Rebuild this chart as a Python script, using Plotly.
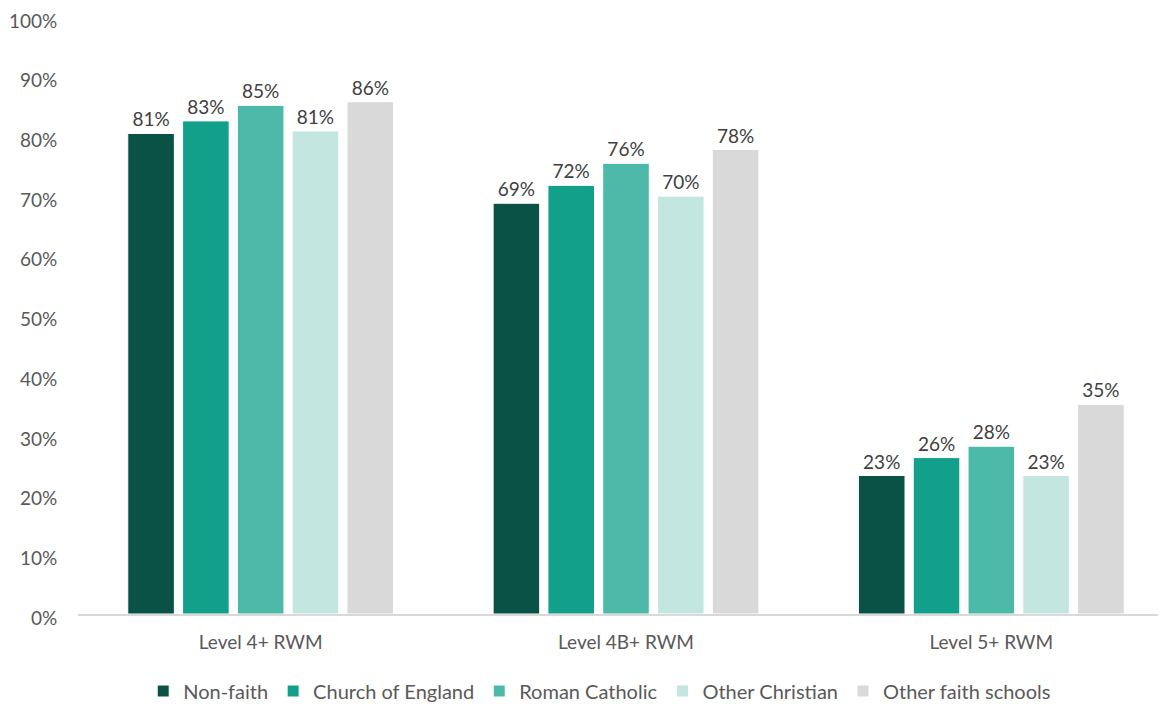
import plotly.graph_objects as go

categories = ['Level 4+ RWM', 'Level 4B+ RWM', 'Level 5+ RWM']
series = ['Non-faith', 'Church of England', 'Roman Catholic', 'Other Christian', 'Other faith schools']
values = {
    'Non-faith': [80.5, 68.8, 23.2],
    'Church of England': [82.6, 71.8, 26.2],
    'Roman Catholic': [85.2, 75.5, 28.1],
    'Other Christian': [80.9, 70.0, 23.2],
    'Other faith schools': [85.8, 77.8, 35.1],
}
labels = {
    'Non-faith': [81, 69, 23],
    'Church of England': [83, 72, 26],
    'Roman Catholic': [85, 76, 28],
    'Other Christian': [81, 70, 23],
    'Other faith schools': [86, 78, 35],
}
colors = ['#0A5246', '#12A08A', '#4DB9A8', '#C4E6E0', '#D9D9D9']

font = 'Lato, Open Sans, sans-serif'

data = []
for name, col in zip(series, colors):
    data.append(go.Bar(
        name=name, x=categories, y=values[name],
        marker=dict(color=col, line=dict(color='white', width=1)),
        text=[f'{v}%' for v in labels[name]],
        textposition='outside', cliponaxis=False, constraintext='none',
        textfont=dict(size=19, color='#404040', family=font),
    ))

# the page body adds an 8px offset, margins compensate for it
layout = go.Layout(
    width=1166, height=704,
    margin=dict(l=70, r=0, t=9, b=98),
    paper_bgcolor='white', plot_bgcolor='white',
    barmode='group', bargap=0.25, bargroupgap=0.15,
    font=dict(family=font, size=19, color='#595959'),
    xaxis=dict(range=[-0.5, 2.5], showline=True, linecolor='#D9D9D9', linewidth=1.5,
               ticks='outside', ticklen=10, tickcolor='white', automargin=False,
               tickfont=dict(size=19, color='#595959'), showgrid=False),
    yaxis=dict(range=[0, 100], dtick=10, ticksuffix='%', showgrid=False, zeroline=False,
               showline=False, ticks='outside', ticklen=16, tickcolor='white', automargin=False,
               ticklabeloverflow='allow', ticklabelshift=4,
               tickfont=dict(size=19, color='#595959')),
    legend=dict(orientation='h', x=0.476, xanchor='center', y=-0.129, yanchor='middle',
                font=dict(size=20, color='#595959'), traceorder='normal',
                itemwidth=30),
)

fig = go.Figure(data=data, layout=layout)
fig.write_html('out.html')
